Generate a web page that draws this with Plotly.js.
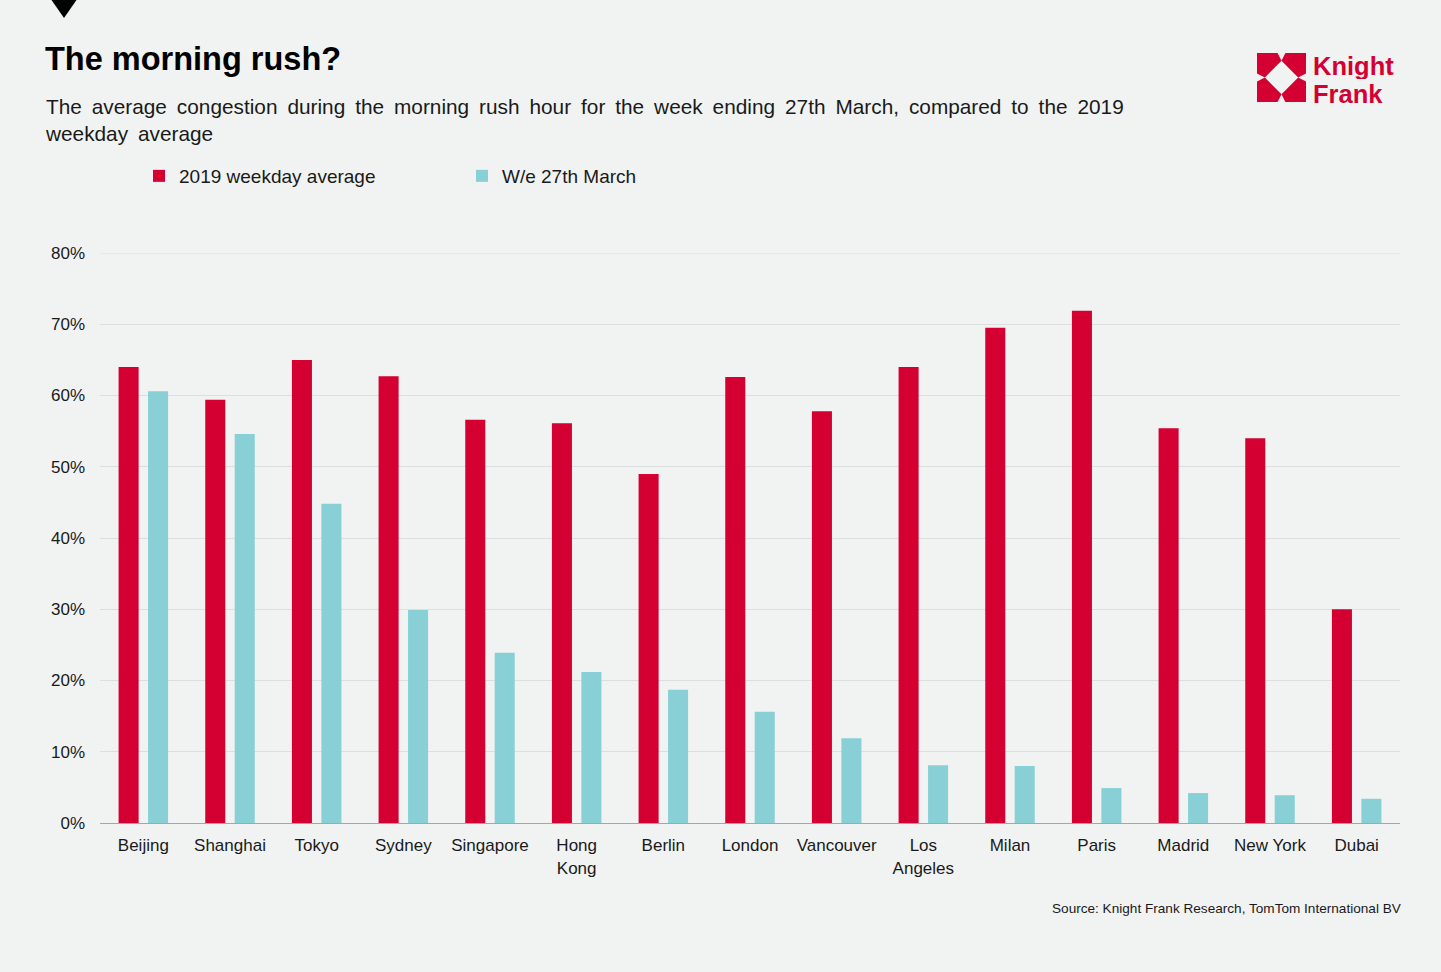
<!DOCTYPE html>
<html>
<head>
<meta charset="utf-8">
<script src="https://cdn.plot.ly/plotly-3.0.1.min.js"></script>
<style>
  html, body { margin: 0; padding: 0; background: #f0f3f2; }
  #chart { width: 1441px; height: 972px; }
</style>
</head>
<body>
<div id="chart"></div>
<script>
const cities = ["Beijing", "Shanghai", "Tokyo", "Sydney", "Singapore", "Hong<br>Kong", "Berlin", "London", "Vancouver", "Los<br>Angeles", "Milan", "Paris", "Madrid", "New York", "Dubai"];
const avg2019 = [64.0, 59.4, 65.0, 62.7, 56.6, 56.1, 49.0, 62.6, 57.8, 64.0, 69.5, 71.9, 55.4, 54.0, 30.0];
const week27March = [60.6, 54.6, 44.8, 29.9, 23.9, 21.2, 18.7, 15.6, 11.9, 8.1, 8.0, 4.9, 4.2, 3.9, 3.4];
const yTickVals = [0, 10, 20, 30, 40, 50, 60, 70, 80];
const yTickText = ["0%", "10%", "20%", "30%", "40%", "50%", "60%", "70%", "80%"];

const RED = "#d50032";
const TEAL = "#88d0d6";
const GRID = "#dcdfdf";
const FONT = "Liberation Sans, Arial, Helvetica, sans-serif";

// layout geometry helpers (pixel -> paper)
const W = 1441, H = 972, ML = 100, MR = 41, MT = 253, MB = 149;
const PW = W - ML - MR, PH = H - MT - MB;
const px = x => (x - ML) / PW;
const py = y => (H - MB - y) / PH;

function poly(pts, color) {
  let d = pts.map((p, i) => (i ? "L" : "M") + px(p[0]) + "," + py(p[1])).join(" ") + " Z";
  return { type: "path", xref: "paper", yref: "paper", path: d, fillcolor: color, line: { width: 0 } };
}

// Knight Frank logo mark
const L0 = 1257, T0 = 53, S = 49;
const u = (a, b) => [L0 + a * S, T0 + b * S];
const logo = [
  poly([u(0,0), u(0.42,0), u(0.5,0.16), u(0.16,0.5), u(0,0.42)], RED),
  poly([u(1,0), u(0.58,0), u(0.5,0.16), u(0.84,0.5), u(1,0.42)], RED),
  poly([u(0,1), u(0.42,1), u(0.5,0.84), u(0.16,0.5), u(0,0.58)], RED),
  poly([u(1,1), u(0.58,1), u(0.5,0.84), u(0.84,0.5), u(1,0.58)], RED)
];
const triangle = poly([[48, -5], [80, -5], [64, 18]], "#000000");
// top gridline (Plotly drops the gridline lying on the plot edge)
const topGrid = { type: "line", xref: "paper", yref: "y", x0: 0, x1: 1, y0: yTickVals[yTickVals.length - 1], y1: yTickVals[yTickVals.length - 1], line: { color: GRID, width: 1 }, layer: "below" };

const subtitle = "The average congestion during the morning rush hour for the week ending 27th March, compared to the 2019<br>weekday average"
  .replace(/ /g, " \u2009");

const traces = [
  { type: "bar", name: "2019 weekday average", x: cities, y: avg2019, marker: { color: RED }, hoverinfo: "x+y" },
  { type: "bar", name: "W/e 27th March", x: cities, y: week27March, marker: { color: TEAL }, hoverinfo: "x+y" }
];

const layout = {
  width: W, height: H,
  paper_bgcolor: "#f0f3f2", plot_bgcolor: "#f0f3f2",
  font: { family: FONT, color: "#1a1a1a", size: 17 },
  margin: { l: ML, r: MR, t: MT, b: MB, pad: 0 },
  barmode: "group", bargap: 0.32, bargroupgap: 0.32,
  title: {
    text: "<b>The morning rush?</b>",
    xref: "container", yref: "container",
    x: 45 / W, y: 1 - 59 / H, xanchor: "left", yanchor: "middle",
    font: { family: FONT, size: 32.5, color: "#000000" }
  },
  xaxis: {
    showgrid: false, zeroline: false, showline: true, linecolor: "#a6a6a6", linewidth: 1,
    ticks: "", ticklabelstandoff: 7, tickfont: { size: 17, color: "#1a1a1a" }, fixedrange: true
  },
  yaxis: {
    range: [0, 80], tickvals: yTickVals, ticktext: yTickText,
    showgrid: true, gridcolor: GRID, gridwidth: 1, zeroline: false, showline: false,
    ticks: "", ticklabelstandoff: 14, tickfont: { size: 17, color: "#1a1a1a" }, fixedrange: true
  },
  showlegend: true,
  legend: {
    orientation: "h", x: px(139), y: py(176), xanchor: "left", yanchor: "middle",
    font: { size: 19, color: "#1a1a1a" }, bgcolor: "rgba(0,0,0,0)",
    entrywidth: 278, entrywidthmode: "pixels", itemclick: false, itemdoubleclick: false
  },
  shapes: [topGrid, triangle].concat(logo),
  annotations: [
    {
      xref: "paper", yref: "paper", x: px(43), y: py(120), xanchor: "left", yanchor: "middle", align: "left",
      showarrow: false, text: subtitle,
      font: { size: 20.8, color: "#1a1a1a" }
    },
    {
      xref: "paper", yref: "paper", x: px(1403), y: py(908), xanchor: "right", yanchor: "middle",
      showarrow: false, text: "Source: Knight Frank Research, TomTom International BV",
      font: { size: 13.6, color: "#1a1a1a" }
    },
    {
      xref: "paper", yref: "paper", x: px(1311), y: py(65.5), xanchor: "left", yanchor: "middle",
      height: 27, valign: "middle",
      showarrow: false, text: "<b>Knight</b>", font: { size: 25.5, color: RED }
    },
    {
      xref: "paper", yref: "paper", x: px(1311), y: py(93), xanchor: "left", yanchor: "middle",
      height: 27, valign: "middle",
      showarrow: false, text: "<b>Frank</b>", font: { size: 25.5, color: RED }
    }
  ]
};

Plotly.newPlot("chart", traces, layout, { displayModeBar: false, responsive: false });
</script>
</body>
</html>
